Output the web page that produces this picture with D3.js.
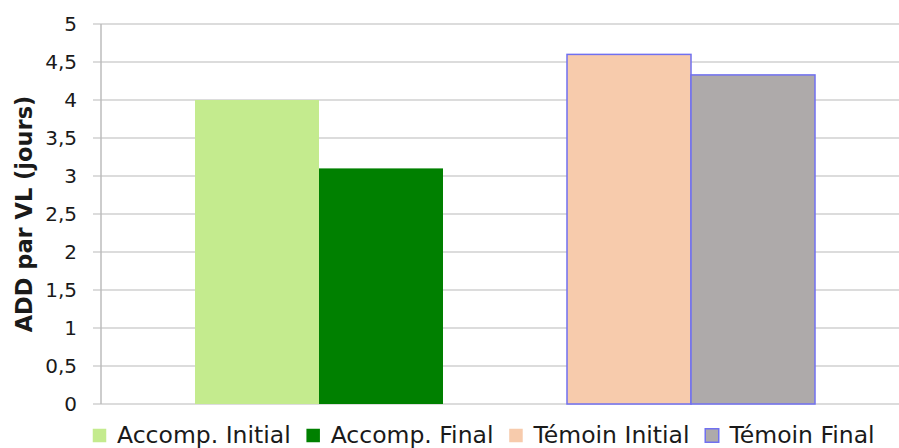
<!DOCTYPE html>
<html>
<head>
<meta charset="utf-8">
<script src="https://cdn.jsdelivr.net/npm/d3@7"></script>
<style>
    body { margin: 0; background: #fff; }
    text { font-family: "DejaVu Sans", sans-serif; fill: #1a1a1a; }
</style>
</head>
<body>
<div id="chart"></div>
<script>
// donnees
var groups = ["Accomp.", "Témoin"];
var seriesNames = ["Accomp. Initial", "Accomp. Final", "Témoin Initial", "Témoin Final"];
var seriesColors = ["#c4eb8e", "#008000", "#f7cbac", "#aeaaaa"];
var seriesStroke = [null, null, "#7070f0", "#7070f0"];
var accompValues = [4.0, 3.1];
var temoinValues = [4.6, 4.33];
var yTicks = [0, 0.5, 1, 1.5, 2, 2.5, 3, 3.5, 4, 4.5, 5];

var width = 899, height = 448;

var svg = d3.select("#chart").append("svg")
    .attr("width", width)
    .attr("height", height);

var y = d3.scaleLinear().domain([0, 5]).range([404, 24]);

// bandes de categories (le trace continue hors de l'image a droite)
var x0 = d3.scaleBand()
    .domain(groups)
    .range([133, 877])
    .paddingInner(1 / 3)
    .paddingOuter(1 / 6);

var x1 = d3.scaleBand()
    .domain([0, 1])
    .range([0, x0.bandwidth()]);

// grille
svg.append("g")
    .selectAll("line")
    .data(yTicks)
    .enter().append("line")
    .attr("x1", 93)
    .attr("x2", width)
    .attr("y1", function(d) { return y(d); })
    .attr("y2", function(d) { return y(d); })
    .attr("stroke", "#d0d0d0")
    .attr("stroke-width", 1.5);

// axe vertical
svg.append("line")
    .attr("x1", 101).attr("x2", 101)
    .attr("y1", y(5)).attr("y2", y(0))
    .attr("stroke", "#bdbdbd")
    .attr("stroke-width", 1.5);

var yAxis = d3.axisLeft(y)
    .tickValues(yTicks)
    .tickSize(0)
    .tickPadding(0)
    .tickFormat(function(d) { return String(d).replace(".", ","); });

var gy = svg.append("g")
    .attr("transform", "translate(77,0)")
    .call(yAxis);
gy.select(".domain").remove();
gy.selectAll("text")
    .style("font-size", "20px")
    .style("font-family", "DejaVu Sans, sans-serif")
    .attr("fill", "#1a1a1a");

// titre de l'axe
svg.append("text")
    .attr("transform", "translate(32,214) rotate(-90)")
    .attr("text-anchor", "middle")
    .style("font-size", "22.5px")
    .style("font-weight", "bold")
    .text("ADD par VL (jours)");

var data = [
    { group: "Accomp.", values: accompValues, offset: 0 },
    { group: "Témoin", values: temoinValues, offset: 2 }
];

var gGroup = svg.append("g")
    .selectAll("g")
    .data(data)
    .enter().append("g")
    .attr("transform", function(d) { return "translate(" + x0(d.group) + ",0)"; });

gGroup.selectAll("rect")
    .data(function(d) {
        return d.values.map(function(v, i) { return { i: i, v: v, s: d.offset + i }; });
    })
    .enter().append("rect")
    .attr("x", function(d) { return x1(d.i); })
    .attr("width", x1.bandwidth())
    .attr("y", function(d) { return y(d.v); })
    .attr("height", function(d) { return y(0) - y(d.v); })
    .attr("fill", function(d) { return seriesColors[d.s]; })
    .attr("stroke", function(d) { return seriesStroke[d.s] || "none"; })
    .attr("stroke-width", 1.5);

// legende
var legend = svg.append("g").attr("transform", "translate(0,435)");
var lx = 92;
seriesNames.forEach(function(name, i) {
    legend.append("rect")
        .attr("x", lx + 0.75)
        .attr("y", -6.25)
        .attr("width", 13.5)
        .attr("height", 13.5)
        .attr("fill", seriesColors[i])
        .attr("stroke", i === 3 ? seriesStroke[i] : "none")
        .attr("stroke-width", 1.5);
    var t = legend.append("text")
        .attr("x", lx + 25)
        .attr("y", 8)
        .style("font-size", "23.5px")
        .text(name);
    lx = lx + 25 + t.node().getComputedTextLength() + 15;
});
</script>
</body>
</html>
